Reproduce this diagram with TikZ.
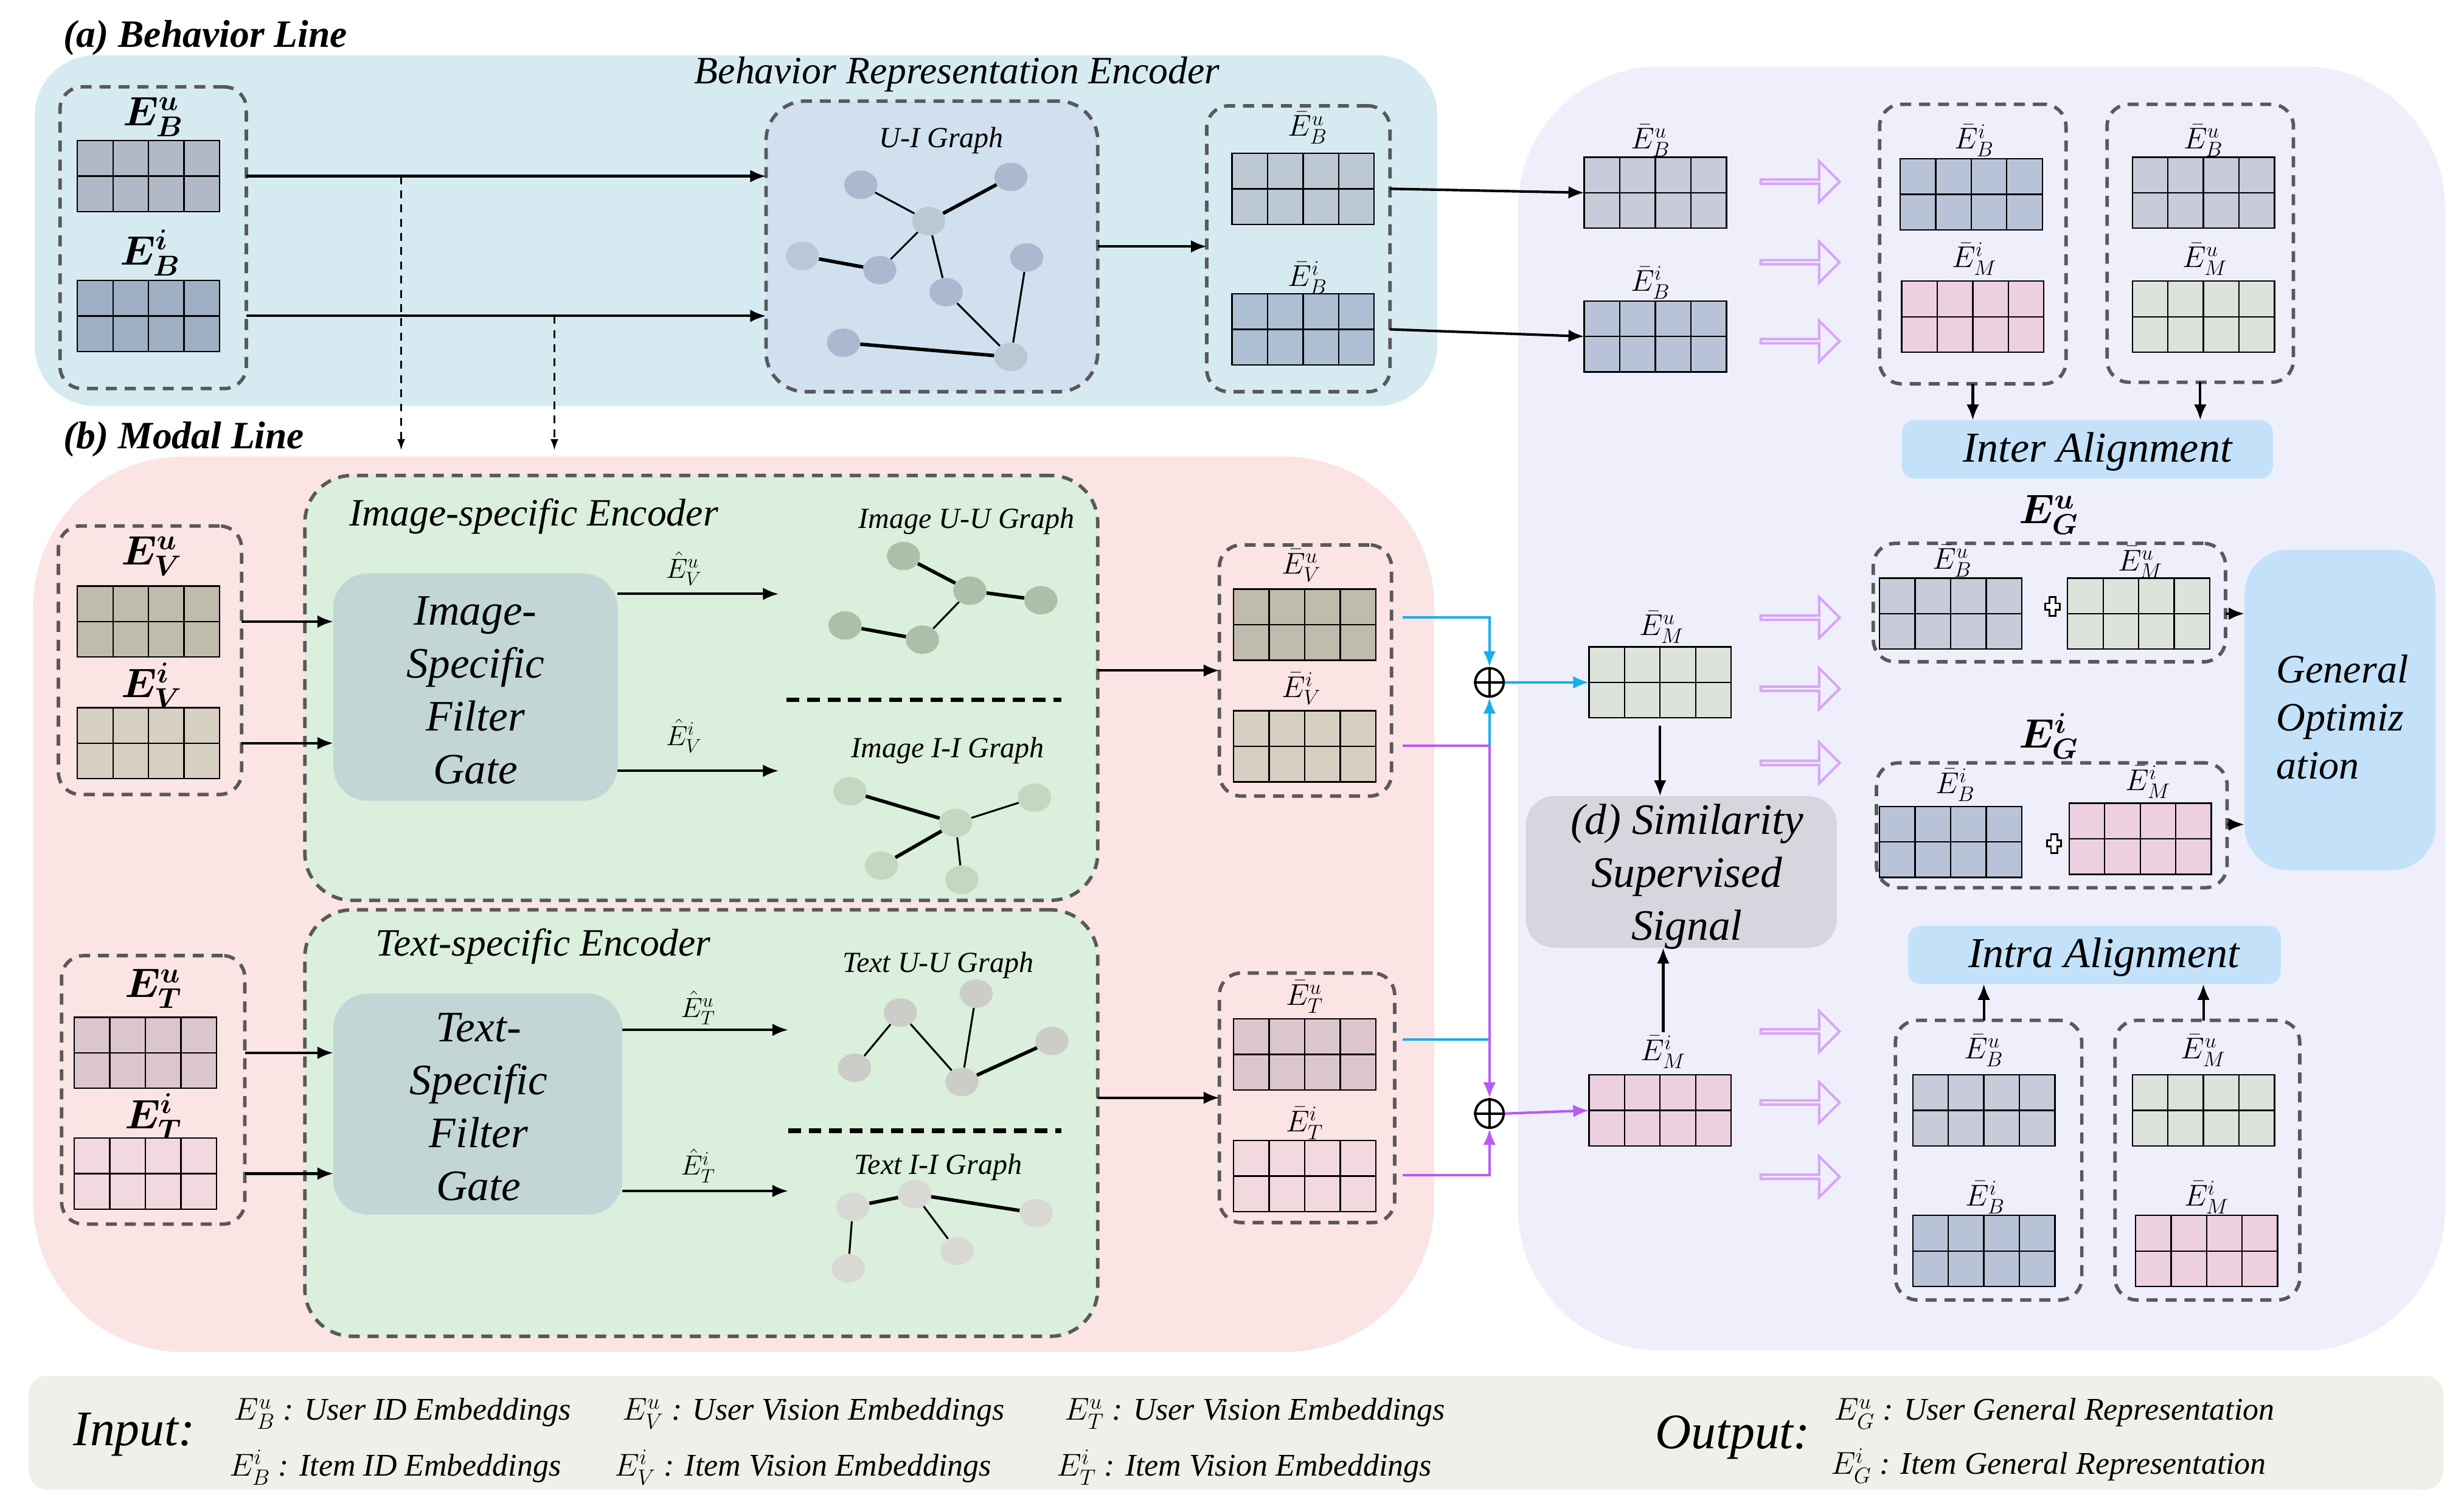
\RequirePackage{fix-cm}
\documentclass[tikz,border=0pt]{standalone}
\usepackage{fontspec}
\setmainfont{Liberation Serif}
\usepackage{amsmath}
\usepackage{bm}
\usetikzlibrary{arrows.meta,shapes.geometric,shapes.arrows,calc}

\definecolor{cBluePanel}{HTML}{D6EBF1}
\definecolor{cPinkPanel}{HTML}{FBE4E4}
\definecolor{cLavPanel}{HTML}{EFEFFC}
\definecolor{cLegend}{HTML}{EEF1EA}
\definecolor{cGreen}{HTML}{DAEFDC}
\definecolor{cFilter}{HTML}{C3D6D6}
\definecolor{cUI}{HTML}{D0E0EE}
\definecolor{cBlueBox}{HTML}{C4E1FA}
\definecolor{cSim}{HTML}{D8D5DE}
\definecolor{cDash}{HTML}{595959}
\definecolor{cBlueLn}{HTML}{18AEEC}
\definecolor{cPurpLn}{HTML}{B65CF6}
\definecolor{cHol}{HTML}{D8A6F8}
\definecolor{mBuC}{HTML}{B1B8C6}
\definecolor{mBiC}{HTML}{9EAFC4}
\definecolor{rBuC}{HTML}{BCC8D3}
\definecolor{rBiC}{HTML}{ADBFD2}
\definecolor{pBuC}{HTML}{C8CBD9}
\definecolor{pBiC}{HTML}{B9C3D8}
\definecolor{mVuC}{HTML}{BFBBAD}
\definecolor{mViC}{HTML}{D7D0C2}
\definecolor{mTuC}{HTML}{DCC6CD}
\definecolor{mTiC}{HTML}{F1D9DF}
\definecolor{grnC}{HTML}{DDE3DB}
\definecolor{pnkC}{HTML}{EDD0E0}
\definecolor{gUI}{HTML}{AAB9D0}
\definecolor{gUIl}{HTML}{BCC7D5}
\definecolor{gIU}{HTML}{ADBFA8}
\definecolor{gII}{HTML}{C5D7C0}
\definecolor{gTU}{HTML}{CCCCC8}
\definecolor{gTI}{HTML}{DAD8D4}

\newcommand{\myBE}[2]{\bm{E}^{\bm{#1}}_{\bm{#2}}}
\newcommand{\myBar}[2]{\bar{E}^{#1}_{#2}}
\newcommand{\myHat}[2]{\hat{E}^{#1}_{#2}}

\begin{document}
\begin{tikzpicture}[x=1pt,y=-1pt,
  panel/.style={draw=none, inner sep=0pt, outer sep=0pt},
  dbox/.style={draw=cDash, line width=2.2pt, dash pattern=on 7pt off 5pt, rounded corners=14pt, inner sep=0pt, outer sep=0pt},
  arr/.style={line width=1.6pt, -{Latex[length=10pt,width=8pt]}},
  darr/.style={line width=1pt, dash pattern=on 5pt off 4pt, -{Latex[length=7pt,width=5pt]}},
  blueln/.style={draw=cBlueLn, line width=1.6pt, -{Latex[length=10pt,width=8pt]}},
  purpln/.style={draw=cPurpLn, line width=1.6pt, -{Latex[length=10pt,width=8pt]}},
  hol/.style={single arrow, draw=cHol, line width=1.6pt, minimum height=50pt, minimum width=26pt, single arrow head extend=7pt, inner sep=0pt},
  gnode/.style={ellipse, minimum width=21pt, minimum height=18pt, inner sep=0pt},
  ge/.style={line width=1.2pt},
  get/.style={line width=2.2pt},
  sep/.style={line width=3pt, dash pattern=on 8pt off 5pt},
  emb/.style={draw=black, line width=0.9pt, minimum width=90pt, minimum height=45pt, inner sep=0pt, outer sep=0pt,
    path picture={
      \foreach \f in {0.25,0.5,0.75}{
        \draw[line width=0.9pt] ($(path picture bounding box.north west)!\f!(path picture bounding box.north east)$) -- ($(path picture bounding box.south west)!\f!(path picture bounding box.south east)$);}
      \draw[line width=0.9pt] (path picture bounding box.west) -- (path picture bounding box.east);
    }},
  lab/.style={inner sep=0pt, font=\fontsize{19}{22}\selectfont},
  hlab/.style={inner sep=0pt, font=\fontsize{17.5}{21}\selectfont},
  big/.style={inner sep=0pt, font=\fontsize{26}{30}\selectfont},
  title/.style={inner sep=0pt, font=\fontsize{24.5}{28}\selectfont\itshape},
  gtitle/.style={inner sep=0pt, font=\fontsize{18.5}{22}\selectfont\itshape},
  boxtxt/.style={inner sep=0pt, align=center, font=\fontsize{27.5}{33.5}\selectfont\itshape},
  leg/.style={inner sep=0pt, anchor=west, font=\fontsize{20}{24}\selectfont\itshape},
  oplus/.style={circle, draw=black, line width=1.5pt, minimum size=18pt, inner sep=0pt}
]
\useasboundingbox (0,0) rectangle (1560,951.2);

% ---------- panels ----------
\node[panel, fill=cBluePanel, rounded corners=38pt, minimum width=888pt, minimum height=222pt] (bluePanel) at (466,146) {};
\node[panel, fill=cPinkPanel, rounded corners=95pt, minimum width=887pt, minimum height=567pt] (pinkPanel) at (464.5,572.5) {};
\node[panel, fill=cLavPanel, rounded corners=90pt, minimum width=587pt, minimum height=813pt] (lavPanel) at (1254.5,448.5) {};
\node[panel, fill=cLegend, rounded corners=12pt, minimum width=1529pt, minimum height=72pt] (legPanel) at (782.5,907) {};

\node[inner sep=0pt, anchor=west, font=\fontsize{24.5}{28}\selectfont\bfseries\itshape] (aLine) at (40,24) {(a) Behavior Line};
\node[inner sep=0pt, anchor=west, font=\fontsize{24.5}{28}\selectfont\bfseries\itshape] (bLine) at (40,278) {(b) Modal Line};
\node[title] (breTitle) at (606,47) {Behavior Representation Encoder};

% ---------- behavior line ----------
\node[dbox, minimum width=118pt, minimum height=191pt] (bL) at (97,150.5) {};
\node[big] (lBu) at (97,74) {$\myBE{u}{B}$};
\node[emb, fill=mBuC] (mBu) at (94,111.5) {};
\node[big] (lBi) at (95,160) {$\myBE{i}{B}$};
\node[emb, fill=mBiC] (mBi) at (94,200) {};

\node[dbox, fill=cUI, rounded corners=25pt, minimum width=210pt, minimum height=184pt] (ui) at (590,156) {};
\node[gtitle] (uiT) at (596,89) {U-I Graph};
\node[gnode, fill=gUI] (u1) at (545,117) {};
\node[gnode, fill=gUI] (u2) at (640,112) {};
\node[gnode, fill=gUIl] (u3) at (588,140) {};
\node[gnode, fill=gUIl] (u4) at (508,162) {};
\node[gnode, fill=gUI] (u5) at (557,171) {};
\node[gnode, fill=gUI] (u6) at (650,163) {};
\node[gnode, fill=gUI] (u7) at (599,185) {};
\node[gnode, fill=gUI] (u8) at (534,217) {};
\node[gnode, fill=gUIl] (u9) at (640,226) {};
\draw[ge] (u1) -- (u3);
\draw[get] (u3) -- (u2);
\draw[ge] (u3) -- (u5);
\draw[get] (u5) -- (u4);
\draw[ge] (u3) -- (u7);
\draw[ge] (u7) -- (u9);
\draw[ge] (u6) -- (u9);
\draw[get] (u8) -- (u9);

\node[dbox, minimum width=116pt, minimum height=181pt] (bR) at (822,157.5) {};
\node[lab] (lrBu) at (828,81) {$\myBar{u}{B}$};
\node[emb, fill=rBuC] (rBu) at (825,119.5) {};
\node[lab] (lrBi) at (828,176) {$\myBar{i}{B}$};
\node[emb, fill=rBiC] (rBi) at (825,208.5) {};

\draw[arr] (bL.east |- mBu.center) -- (ui.west |- mBu.center);
\draw[arr] (bL.east |- mBi.center) -- (ui.west |- mBi.center);
\draw[arr] (ui.east) -- (ui.east -| bR.west);
\coordinate (d1s) at (254,111.5);
\coordinate (d1e) at (254,285);
\coordinate (d2s) at (351,200);
\coordinate (d2e) at (351,285);
\draw[darr] (d1s) -- (d1e);
\draw[darr] (d2s) -- (d2e);

% ---------- modal line: image ----------
\node[dbox, fill=cGreen, rounded corners=30pt, minimum width=502pt, minimum height=269pt] (imgEnc) at (444,435.5) {};
\node[dbox, fill=cGreen, rounded corners=30pt, minimum width=502pt, minimum height=270pt] (txtEnc) at (444,711) {};
\node[title] (imgT) at (338,327) {Image-specific Encoder};
\node[title] (txtT) at (344,599) {Text-specific Encoder};

\node[panel, fill=cFilter, rounded corners=22pt, minimum width=180pt, minimum height=144pt] (imgF) at (301,435) {};
\node[boxtxt] (imgFT) at (301,437) {Image-\\Specific\\Filter\\Gate};
\node[panel, fill=cFilter, rounded corners=22pt, minimum width=183pt, minimum height=140pt] (txtF) at (302.5,699) {};
\node[boxtxt] (txtFT) at (303,701) {Text-\\Specific\\Filter\\Gate};

\node[dbox, minimum width=116pt, minimum height=170pt] (vL) at (95,418) {};
\node[big] (lVu) at (96,352) {$\myBE{u}{V}$};
\node[emb, fill=mVuC] (mVu) at (94,393.5) {};
\node[big] (lVi) at (96,434) {$\myBE{i}{V}$};
\node[emb, fill=mViC] (mVi) at (94,470.5) {};

\node[dbox, minimum width=116pt, minimum height=170pt] (tL) at (97,690) {};
\node[big] (lTu) at (97,626) {$\myBE{u}{T}$};
\node[emb, fill=mTuC] (mTu) at (92,666.5) {};
\node[big] (lTi) at (97,707) {$\myBE{i}{T}$};
\node[emb, fill=mTiC] (mTi) at (92,743) {};

\draw[arr] (vL.east |- mVu.center) -- (imgF.west |- mVu.center);
\draw[arr] (vL.east |- mVi.center) -- (imgF.west |- mVi.center);
\draw[arr] (tL.east |- mTu.center) -- (txtF.west |- mTu.center);
\draw[arr] (tL.east |- mTi.center) -- (txtF.west |- mTi.center);

\coordinate (eVu) at (493,376);
\coordinate (eVi) at (493,488);
\coordinate (eTu) at (499,652);
\coordinate (eTi) at (499,754);
\draw[arr] (imgF.east |- eVu) -- (eVu);
\draw[arr] (imgF.east |- eVi) -- (eVi);
\draw[arr] (txtF.east |- eTu) -- (eTu);
\draw[arr] (txtF.east |- eTi) -- (eTi);
\node[hlab] (hVu) at (433,360) {$\myHat{u}{V}$};
\node[hlab] (hVi) at (433,466) {$\myHat{i}{V}$};
\node[hlab] (hTu) at (442,638) {$\myHat{u}{T}$};
\node[hlab] (hTi) at (442,738) {$\myHat{i}{T}$};

\coordinate (s1a) at (498,443);
\coordinate (s1b) at (672,443);
\coordinate (s2a) at (499,716);
\coordinate (s2b) at (672,716);
\draw[sep] (s1a) -- (s1b);
\draw[sep] (s2a) -- (s2b);

\node[gtitle] (iuT) at (612,330) {Image U-U Graph};
\node[gtitle] (iiT) at (600,475) {Image I-I Graph};
\node[gtitle] (tuT) at (594,611) {Text U-U Graph};
\node[gtitle] (tiT) at (594,739) {Text I-I Graph};

\node[gnode, fill=gIU] (a1) at (572,352) {};
\node[gnode, fill=gIU] (a2) at (614,374) {};
\node[gnode, fill=gIU] (a3) at (659,380) {};
\node[gnode, fill=gIU] (a4) at (535,396) {};
\node[gnode, fill=gIU] (a5) at (584,405) {};
\draw[get] (a1) -- (a2);
\draw[get] (a2) -- (a3);
\draw[ge] (a2) -- (a5);
\draw[get] (a4) -- (a5);

\node[gnode, fill=gII] (b1) at (538,501) {};
\node[gnode, fill=gII] (b2) at (655,505) {};
\node[gnode, fill=gII] (b3) at (605,521) {};
\node[gnode, fill=gII] (b4) at (558,548) {};
\node[gnode, fill=gII] (b5) at (609,557) {};
\draw[get] (b1) -- (b3);
\draw[ge] (b2) -- (b3);
\draw[get] (b3) -- (b4);
\draw[ge] (b3) -- (b5);

\node[gnode, fill=gTU] (c1) at (618,629) {};
\node[gnode, fill=gTU] (c2) at (570,641) {};
\node[gnode, fill=gTU] (c3) at (666,659) {};
\node[gnode, fill=gTU] (c4) at (541,676) {};
\node[gnode, fill=gTU] (c5) at (609,685) {};
\draw[ge] (c2) -- (c4);
\draw[ge] (c2) -- (c5);
\draw[ge] (c1) -- (c5);
\draw[get] (c3) -- (c5);

\node[gnode, fill=gTI] (d1) at (579,756) {};
\node[gnode, fill=gTI] (d2) at (540,764) {};
\node[gnode, fill=gTI] (d3) at (656,768) {};
\node[gnode, fill=gTI] (d4) at (606,792) {};
\node[gnode, fill=gTI] (d5) at (537,803) {};
\draw[get] (d2) -- (d1);
\draw[get] (d1) -- (d3);
\draw[ge] (d1) -- (d4);
\draw[ge] (d2) -- (d5);

\node[dbox, minimum width=109pt, minimum height=159pt] (vR) at (826.5,424.5) {};
\node[lab] (lrVu) at (824,358) {$\myBar{u}{V}$};
\node[emb, fill=mVuC] (rVu) at (826,395.5) {};
\node[lab] (lrVi) at (824,436) {$\myBar{i}{V}$};
\node[emb, fill=mViC] (rVi) at (826,472.5) {};

\node[dbox, minimum width=111pt, minimum height=158pt] (tR) at (827.5,695) {};
\node[lab] (lrTu) at (826,631) {$\myBar{u}{T}$};
\node[emb, fill=mTuC] (rTu) at (826,667.5) {};
\node[lab] (lrTi) at (826,711) {$\myBar{i}{T}$};
\node[emb, fill=mTiC] (rTi) at (826,744.5) {};

\draw[arr] (vR.west -| imgEnc.east) -- (vR.west);
\draw[arr] (tR.west -| txtEnc.east) -- (tR.west);

% ---------- fusion ----------
\node[oplus] (op1) at (943,432) {};
\draw[line width=1.5pt] (op1.north) -- (op1.south) (op1.west) -- (op1.east);
\node[oplus] (op2) at (943,705) {};
\draw[line width=1.5pt] (op2.north) -- (op2.south) (op2.west) -- (op2.east);

\coordinate (bv1) at (888,391);
\coordinate (bt1) at (888,658);
\coordinate (pv1) at (888,472);
\coordinate (pt1) at (888,744);
\draw[blueln] (bv1) -- (op1 |- bv1) -- (op1.north);
\draw[blueln] (bt1) -- (op1 |- bt1) -- (op1.south);
\draw[purpln] (pv1) -- (op2 |- pv1) -- (op2.north);
\draw[purpln] (pt1) -- (op2 |- pt1) -- (op2.south);

% ---------- right panel ----------
\node[lab] (lpBu) at (1045,89) {$\myBar{u}{B}$};
\node[emb, fill=pBuC] (pBu) at (1048,122) {};
\node[lab] (lpBi) at (1045,179) {$\myBar{i}{B}$};
\node[emb, fill=pBiC] (pBi) at (1048,213) {};
\draw[arr] (bR.east |- rBu.center) -- (pBu.west);
\draw[arr] (bR.east |- rBi.center) -- (pBi.west);

\node[lab] (lmMu) at (1052,397) {$\myBar{u}{M}$};
\node[emb, fill=grnC] (mMu) at (1051,432) {};
\node[lab] (lmMi) at (1053,666) {$\myBar{i}{M}$};
\node[emb, fill=pnkC] (mMi) at (1051,703) {};
\draw[blueln] (op1.east) -- (mMu.west);
\draw[purpln] (op2.east) -- (mMi.west);

\node[panel, fill=cSim, rounded corners=18pt, minimum width=197pt, minimum height=96pt] (sim) at (1064.5,552) {};
\node[boxtxt] (simT) at (1068,555) {(d) Similarity\\Supervised\\Signal};
\draw[arr] ([yshift=-5pt]mMu.south) -- (mMu.south |- sim.north);
\draw[arr] ([yshift=2pt]lmMi.north) -- (lmMi.north |- sim.south);

\foreach \yy/\nm in {115/h1,166/h2,216/h3,391/h4,436/h5,483/h6,653/h7,698/h8,745/h9}{
  \node[hol] (\nm) at (1139,\yy) {};
}

% inter alignment
\node[dbox, minimum width=118pt, minimum height=177pt] (in1) at (1249,154.5) {};
\node[lab] (li1B) at (1250,89) {$\myBar{i}{B}$};
\node[emb, fill=pBiC] (i1B) at (1248,123) {};
\node[lab] (li1M) at (1250,164) {$\myBar{i}{M}$};
\node[emb, fill=pnkC] (i1M) at (1249,200.5) {};
\node[dbox, minimum width=118pt, minimum height=176pt] (in2) at (1393,154) {};
\node[lab] (li2B) at (1395,89) {$\myBar{u}{B}$};
\node[emb, fill=pBuC] (i2B) at (1395,122) {};
\node[lab] (li2M) at (1396,164) {$\myBar{u}{M}$};
\node[emb, fill=grnC] (i2M) at (1395,200.5) {};
\node[panel, fill=cBlueBox, rounded corners=8pt, minimum width=235pt, minimum height=37pt] (interAl) at (1321.5,284.5) {};
\node[inner sep=0pt, font=\fontsize{27}{32}\selectfont\itshape] (interT) at (1328,286) {Inter Alignment};
\draw[arr] (in1.south) -- (in1.south |- interAl.north);
\draw[arr] (in2.south) -- (in2.south |- interAl.north);

% general representation
\node[big] (lGu) at (1297,326) {$\myBE{u}{G}$};
\node[dbox, minimum width=223pt, minimum height=75pt] (gU) at (1297.5,381.5) {};
\node[lab] (lgBu) at (1236,355) {$\myBar{u}{B}$};
\node[emb, fill=pBuC] (gBu) at (1235,388.5) {};
\node[lab] (lgMu) at (1355,356) {$\myBar{u}{M}$};
\node[emb, fill=grnC] (gMu) at (1354,388.5) {};
\draw[line width=1.1pt, fill=white] (1295,382)--(1297.5,382)--(1297.5,378)--(1301.5,378)--(1301.5,382)--(1304,382)--(1304,386)--(1301.5,386)--(1301.5,390)--(1297.5,390)--(1297.5,386)--(1295,386)--cycle;

\node[big] (lGi) at (1297,466) {$\myBE{i}{G}$};
\node[dbox, minimum width=222pt, minimum height=79pt] (gI) at (1299,522.5) {};
\node[lab] (lgBi) at (1238,497) {$\myBar{i}{B}$};
\node[emb, fill=pBiC] (gBi) at (1235,533) {};
\node[lab] (lgMi) at (1360,495) {$\myBar{i}{M}$};
\node[emb, fill=pnkC] (gMi) at (1355,531) {};
\draw[line width=1.1pt, fill=white] (1296,532)--(1298.5,532)--(1298.5,528)--(1302.5,528)--(1302.5,532)--(1305,532)--(1305,536)--(1302.5,536)--(1302.5,540)--(1298.5,540)--(1298.5,536)--(1296,536)--cycle;

\node[panel, fill=cBlueBox, rounded corners=28pt, minimum width=121pt, minimum height=203pt] (genOpt) at (1481.5,449.5) {};
\node[inner sep=0pt, align=left, anchor=west, font=\fontsize{25.5}{30.5}\selectfont\itshape] (genT) at (1441,454) {General\\Optimiz\\ation};
\draw[arr] (gU.east |- gBu.center) -- (genOpt.west |- gBu.center);
\draw[arr] (gI.east |- 0,522) -- (genOpt.west |- 0,522);

% intra alignment
\node[panel, fill=cBlueBox, rounded corners=8pt, minimum width=236pt, minimum height=37pt] (intraAl) at (1326,604.5) {};
\node[inner sep=0pt, font=\fontsize{27}{32}\selectfont\itshape] (intraT) at (1332,606) {Intra Alignment};
\node[dbox, minimum width=118pt, minimum height=177pt] (ia1) at (1259,734.5) {};
\node[lab] (lj1B) at (1256,665) {$\myBar{u}{B}$};
\node[emb, fill=pBuC] (j1B) at (1256,703) {};
\node[lab] (lj1Bi) at (1257,758) {$\myBar{i}{B}$};
\node[emb, fill=pBiC] (j1Bi) at (1256,792) {};
\node[dbox, minimum width=117pt, minimum height=177pt] (ia2) at (1397.5,734.5) {};
\node[lab] (lj2M) at (1395,665) {$\myBar{u}{M}$};
\node[emb, fill=grnC] (j2M) at (1395,703) {};
\node[lab] (lj2Mi) at (1397,758) {$\myBar{i}{M}$};
\node[emb, fill=pnkC] (j2Mi) at (1397,792) {};
\draw[arr] (j1B.north |- ia1.north) -- (j1B.north |- intraAl.south);
\draw[arr] (j2M.north |- ia2.north) -- (j2M.north |- intraAl.south);

% ---------- legend ----------
\node[inner sep=0pt, font=\fontsize{31.5}{36}\selectfont\itshape] (inT) at (85,908) {Input:};
\node[leg] (lg1) at (148,895) {$E_B^u$ : User ID Embeddings};
\node[leg] (lg2) at (394,895) {$E_V^u$ : User Vision Embeddings};
\node[leg] (lg3) at (674,895) {$E_T^u$ : User Vision Embeddings};
\node[leg] (lg4) at (145,929) {$E_B^i$ : Item ID Embeddings};
\node[leg] (lg5) at (389,929) {$E_V^i$ : Item Vision Embeddings};
\node[leg] (lg6) at (669,929) {$E_T^i$ : Item Vision Embeddings};
\node[inner sep=0pt, font=\fontsize{31.5}{36}\selectfont\itshape] (outT) at (1097,910) {Output:};
\node[leg] (lg7) at (1161,895) {$E_G^u$ : User General Representation};
\node[leg] (lg8) at (1159,928) {$E_G^i$ : Item General Representation};
\end{tikzpicture}
\end{document}
